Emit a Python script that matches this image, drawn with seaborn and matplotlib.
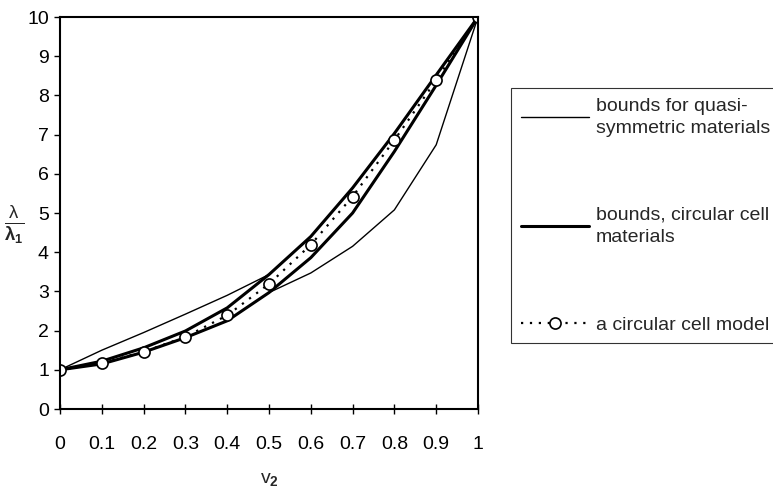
import matplotlib
matplotlib.use("Agg")
import matplotlib.pyplot as plt
import seaborn as sns
import numpy as np

sns.set_theme(style="white")
plt.rcParams['font.family'] = ['Liberation Sans', 'DejaVu Sans']
plt.rcParams['mathtext.fontset'] = 'custom'
plt.rcParams['mathtext.rm'] = 'Liberation Sans'
plt.rcParams['mathtext.it'] = 'Liberation Sans:italic'
plt.rcParams['mathtext.bf'] = 'Liberation Sans:bold'

v2 = [0.0, 0.1, 0.2, 0.3, 0.4, 0.5, 0.6, 0.7, 0.8, 0.9, 1.0]
quasi_upper = [1.0, 1.5, 1.95, 2.42, 2.9, 3.43, 4.4, 5.64, 7.03, 8.52, 10.0]
quasi_lower = [1.0, 1.15, 1.45, 1.82, 2.25, 2.97, 3.47, 4.15, 5.08, 6.74, 10.0]
circ_upper = [1.0, 1.22, 1.56, 1.99, 2.58, 3.43, 4.4, 5.64, 7.03, 8.52, 10.0]
circ_lower = [1.0, 1.15, 1.45, 1.82, 2.25, 2.97, 3.86, 5.0, 6.57, 8.26, 10.0]
circ_model = [1.0, 1.17, 1.46, 1.84, 2.39, 3.19, 4.19, 5.42, 6.86, 8.39, 10.0]
x_labels = ['0', '0.1', '0.2', '0.3', '0.4', '0.5', '0.6', '0.7', '0.8', '0.9', '1']

fig = plt.figure(figsize=(7.73, 4.91), dpi=100)
ax = fig.add_axes([60/773, 1-409/491, (478-60)/773, (409-17)/491])

sns.lineplot(x=v2, y=quasi_upper, ax=ax, color='black', lw=1.0,
             label='bounds for quasi-\nsymmetric materials')
sns.lineplot(x=v2, y=quasi_lower, ax=ax, color='black', lw=1.0, label='_nolegend_')
sns.lineplot(x=v2, y=circ_upper, ax=ax, color='black', lw=2.2,
             label='bounds, circular cell\nmaterials')
sns.lineplot(x=v2, y=circ_lower, ax=ax, color='black', lw=2.2, label='_nolegend_')
sns.lineplot(x=v2, y=circ_model, ax=ax, color='black', lw=1.6, linestyle=(0, (1, 3)),
             marker='o', markersize=8, markerfacecolor='white', markeredgecolor='black',
             markeredgewidth=1.2, label='a circular cell model')

ax.set_xlim(0, 1)
ax.set_ylim(0, 10)
ax.set_xticks(v2)
ax.set_xticklabels(x_labels)
ax.set_yticks(range(0, 11))
ax.tick_params(colors='black', labelsize=14, bottom=True, left=True, width=1)
ax.tick_params(axis='x', direction='inout', length=7, pad=16)
ax.tick_params(axis='y', direction='out', length=4, pad=4)
for s in ax.spines.values():
    s.set_color('black')
    s.set_linewidth(1.5)
ax.grid(False)

ax.set_xlabel(r'$\mathregular{v_{\mathbf{2}}}$', fontsize=14, labelpad=13)
ax.set_ylabel(r'$\frac{\mathrm{\lambda}}{\mathbf{\lambda_1}}$', fontsize=19, rotation=0,
              va='center', ha='center')
ax.yaxis.set_label_coords(-0.11, 0.47)

leg = ax.legend(loc='upper left', bbox_to_anchor=(511/773, 1-88/491),
                bbox_transform=fig.transFigure, frameon=True, fontsize=14,
                handlelength=3.5, handletextpad=0.36, labelspacing=3.6,
                borderpad=0.5, borderaxespad=0, fancybox=False)
for t in leg.get_texts():
    t.set_linespacing(1.4)
leg.get_frame().set_edgecolor('black')
leg.get_frame().set_linewidth(0.8)

fig.savefig('out.png', dpi=100)
